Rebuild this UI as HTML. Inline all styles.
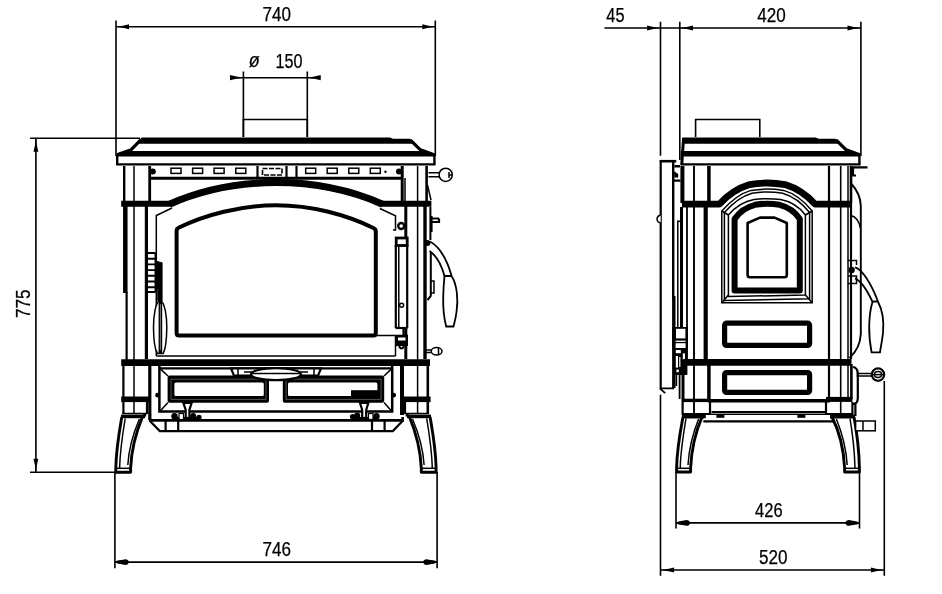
<!DOCTYPE html>
<html>
<head>
<meta charset="utf-8">
<title>Stove dimensions</title>
<style>
html,body{margin:0;padding:0;background:#fff;}
body{width:942px;height:594px;overflow:hidden;}
svg{display:block;will-change:transform;}
text{font-family:"Liberation Sans",sans-serif;font-size:20px;fill:#000;stroke:#000;stroke-width:0.25px;}
.d,.t,.m,.k,.K{stroke:#000;}
.d:not([fill]),.t:not([fill]),.m:not([fill]),.k:not([fill]),.K:not([fill]){fill:none;}
.d:not([stroke-width]){stroke-width:1.6;}
.t:not([stroke-width]){stroke-width:1.5;}
.m:not([stroke-width]){stroke-width:2.2;}
.k:not([stroke-width]){stroke-width:3.2;}
.K:not([stroke-width]){stroke-width:5.4;}
.a{fill:#000;stroke:none;}
.w{fill:#fff;}
</style>
</head>
<body>
<svg width="942" height="594" viewBox="0 0 942 594">
<rect width="942" height="594" fill="#fff"/>

<!-- ================= DIMENSIONS : FRONT ================= -->
<g id="dims-front">
<path class="d" d="M116,20.5V156 M435.3,20.5V156 M116,26.8H435.3"/>
<path class="a" d="M116,26.8 Q123.2,26.1 129.0,24.3 V29.3 Q123.2,27.5 116,26.8Z M435.3,26.8 Q428.2,26.1 422.3,24.3 V29.3 Q428.2,27.5 435.3,26.8Z"/>
<text x="276.8" y="20.8" text-anchor="middle" textLength="28.5" lengthAdjust="spacingAndGlyphs">740</text>

<path class="d" d="M243.4,71.5V137 M307.3,71.5V137 M230,77.7H320.5"/>
<path class="a" d="M243.4,77.7 Q236.0,77.0 230.0,75.1 V80.3 Q236.0,78.4 243.4,77.7Z M307.3,77.7 Q314.7,77.0 320.7,75.1 V80.3 Q314.7,78.4 307.3,77.7Z"/>
<text x="248.8" y="67.2" font-size="21" font-style="italic" textLength="11" lengthAdjust="spacingAndGlyphs">ø</text>
<text x="275.5" y="68.4" textLength="27" lengthAdjust="spacingAndGlyphs">150</text>

<path class="d" d="M30,138.2H140 M30,472.3H115 M35.9,138.2V472.3"/>
<path class="a" d="M35.9,138.2 Q35.2,145.6 33.5,151.7 H38.3 Q36.6,145.6 35.9,138.2Z M35.9,472.3 Q35.2,464.9 33.5,458.8 H38.3 Q36.6,464.9 35.9,472.3Z"/>
<text transform="translate(30.2,303.8) rotate(-90)" text-anchor="middle" textLength="28.5" lengthAdjust="spacingAndGlyphs">775</text>

<path class="d" d="M114.9,472V568.2 M437.1,472V568.2 M114.9,562.1H437.1"/>
<path class="a" d="M114.9,562.1 L117.4,560.6 L122.9,559.7 C124.9,558.8 128.8,558.8 128.8,562.1 C128.8,565.4 124.9,565.4 122.9,564.5 L117.4,563.6Z"/>
<path class="a" d="M437.1,562.1 L434.6,560.6 L429.1,559.7 C427.1,558.8 423.2,558.8 423.2,562.1 C423.2,565.4 427.1,565.4 429.1,564.5 L434.6,563.6Z"/>
<text x="276.8" y="556" text-anchor="middle" textLength="28.5" lengthAdjust="spacingAndGlyphs">746</text>
</g>

<!-- ================= DIMENSIONS : SIDE ================= -->
<g id="dims-side">
<path class="d" d="M660.5,21.8V155.8 M679.8,21.8V160 M860.9,21.8V156 M604.4,28H860.9"/>
<path class="a" d="M660.5,28 Q653.1,27.3 647.1,25.6 V30.4 Q653.1,28.7 660.5,28Z M679.8,28 Q687.1,27.3 693.0,25.6 V30.4 Q687.1,28.7 679.8,28Z M860.9,28 Q853.5,27.3 847.5,25.6 V30.4 Q853.5,28.7 860.9,28Z"/>
<text x="606.3" y="21.9" textLength="18.2" lengthAdjust="spacingAndGlyphs">45</text>
<text x="771.4" y="21.9" text-anchor="middle" textLength="28.5" lengthAdjust="spacingAndGlyphs">420</text>

<path class="d" d="M676,472V528.5 M859.5,472V528.5 M676,522.9H859.5"/>
<path class="a" d="M676.0,522.9 L678.5,521.4 L684.0,520.5 C686.0,519.6 689.9,519.6 689.9,522.9 C689.9,526.2 686.0,526.2 684.0,525.3 L678.5,524.4Z"/>
<path class="a" d="M859.5,522.9 L857.0,521.4 L851.5,520.5 C849.5,519.6 845.6,519.6 845.6,522.9 C845.6,526.2 849.5,526.2 851.5,525.3 L857.0,524.4Z"/>
<text x="768.8" y="517.2" text-anchor="middle" textLength="27.5" lengthAdjust="spacingAndGlyphs">426</text>

<path class="d" d="M660.5,394.8V575.8 M884.3,381V575.8 M660.5,570H884.3"/>
<path class="a" d="M660.5,570 Q668.0,569.3 674.1,567.5 V572.5 Q668.0,570.7 660.5,570Z M884.3,570 Q876.9,569.3 870.9,567.5 V572.5 Q876.9,570.7 884.3,570Z"/>
<text x="773.2" y="563.5" text-anchor="middle" textLength="28.5" lengthAdjust="spacingAndGlyphs">520</text>
</g>

<!-- ================= FRONT VIEW ================= -->
<g id="front">
<!-- flue -->
<path class="d" d="M243.4,137V119.5H307.3V137"/>
<!-- top plate -->
<path class="a" d="M141.4,137.5 H390 L393,138.8 H409.8 L413.4,143.7 H138.2 Z"/>
<path class="k" stroke-width="3.3" stroke-linejoin="round" stroke-linecap="round" d="M140,140.6 L131.2,149.7 L118.4,154.2"/>
<path class="k" stroke-width="3.3" stroke-linejoin="round" stroke-linecap="round" d="M411.2,140.8 L420.4,149.9 L433.4,154.6"/>
<path class="a" d="M116.8,156.6 V154.2 L126,151 H426 L434.8,154.6 V156.6Z"/>
<path class="m" stroke-width="2.4" d="M117.2,155V164 M434.4,155V164"/>
<path class="k" stroke-width="2.4" d="M116,164.4H435.6"/>
<!-- vent strip -->
<path class="m" stroke-width="3" d="M151,178.3H401"/>
<circle class="a" cx="152.8" cy="171.6" r="3"/>
<circle class="a" cx="399" cy="171.6" r="3"/>
<circle class="a" cx="385.5" cy="171.8" r="1.2"/>
<g class="t" stroke-width="1.5">
<rect x="171" y="168.2" width="10" height="5.2"/>
<rect x="192.6" y="168.2" width="10" height="5.2"/>
<rect x="214.1" y="168.2" width="10" height="5.2"/>
<rect x="235.8" y="168.2" width="10" height="5.2"/>
<rect x="305.7" y="168.2" width="10" height="5.2"/>
<rect x="327.2" y="168.2" width="10" height="5.2"/>
<rect x="348.8" y="168.2" width="10" height="5.2"/>
<rect x="370.3" y="168.2" width="10" height="5.2"/>
</g>
<path class="m" d="M257.5,166V178 M286.5,166V178 M296.5,166V178"/>
<rect class="m" x="262.5" y="168.5" width="19.5" height="6.5" stroke-width="1.6" stroke-dasharray="5 1.5"/>
<!-- left column -->
<path class="k" stroke-width="2.4" d="M124.2,166V203"/>
<path class="t" d="M134,166V414"/>
<path class="k" stroke-width="2.8" d="M149.7,166V203"/>
<path class="K" stroke-width="4.5" d="M125.3,203V293"/>
<path class="m" d="M126.6,292V360"/>
<path class="k" stroke-width="3.2" d="M146.4,203V359"/>
<path class="m" d="M123.4,364V414 M147,402V414"/>
<path class="k" d="M149.8,364V420"/>
<path class="K" stroke-width="5.6" d="M121.2,399.3H151"/>
<path class="K" stroke-width="3.6" d="M121,416.4H145"/>
<path class="t" d="M122.4,413.5H147"/>
<!-- right column -->
<path class="k" stroke-width="3" d="M402.2,166V203"/>
<path class="t" d="M405,178V203"/>
<path class="t" d="M417.6,166V414"/>
<path class="k" stroke-width="2.6" d="M426.6,166V203"/>
<path class="k" stroke-width="3" d="M405.8,203V238 M405.8,328V359"/>
<path class="k" stroke-width="3.4" d="M425,203V359"/>
<path class="K" stroke-width="4" d="M402,364V415"/>
<path class="m" stroke-width="2.6" d="M402.6,417V422"/>
<path class="k" stroke-width="2.6" d="M427.8,364V414"/>
<path class="m" d="M405,402V414"/>
<path class="K" stroke-width="5.6" d="M400.6,399.3H430.6"/>
<path class="K" stroke-width="3.6" d="M407,416.4H431"/>
<path class="t" d="M405,413.5H429"/>
<path class="t" d="M427.5,185 L431,200"/>
<!-- legs -->
<g id="legL">
<path class="k" stroke-width="2.9" stroke-linejoin="round" d="M121.8,417 C119.6,430 116.2,448 115.8,468 V472.2 H130.6 V468 C131.6,446 137,430 142.4,417"/>
<path class="t" d="M115.8,468.3H130.6"/>
<path class="t" d="M125.2,418.5 C122.6,434 120,452 119.6,468"/>
<path class="t" d="M139.4,419 C133.4,433 128.8,448 127.8,465"/>
<path class="a" d="M143,413.5H146.2V416.6H143Z"/>
</g>
<use href="#legL" transform="translate(551.9,0) scale(-1,1)"/>
<!-- belts -->
<path class="K" stroke-width="6" d="M121.2,203.8H171 M381,203.8H431.4"/>
<path class="K" stroke-width="6.6" d="M121.2,362.6H430"/>
<path class="K" stroke-width="7" stroke-linejoin="round" d="M169.5,204.2 C196,192.5 230,182.6 276,182.6 C322,182.6 356,192.5 382.5,204.2"/>
<!-- door outline -->
<path class="t" d="M156.3,356V215.5 L172,208 M379.8,208.5 L395.5,215.8 V230 H393 M395.5,335.5V356 M156.3,356H395.5 M376,335.6H395.5"/>
<!-- glass -->
<path class="k" stroke-width="4" stroke-linejoin="round" d="M176.6,333 V231 Q176.6,228.5 179,227.5 C205,215 240,205.3 276.2,205.3 C312,205.3 347,215 373.4,228 Q375.8,229 375.8,231.5 V333 Q375.8,335.6 373.4,335.6 H179 Q176.6,335.6 176.6,333Z"/>
<!-- left hinge ladder + handle -->
<path class="t" stroke-width="1.9" d="M147,253H155.5 M147,258.7H155.5 M147,264.4H155.5 M147,270.1H155.5 M147,275.8H155.5 M147,281.5H155.5 M147,287.2H155.5 M147,292H155.5 M155.5,253V292"/>
<path class="a" d="M155.5,260.5 L162.6,262.5 V289 H155.5Z"/>
<path class="a" d="M157.2,289H162.6V301H157.2Z"/>
<path class="t" fill="#fff" d="M160,300.8 C165,301.3 167,318 166.8,328 C166.6,340 164.8,350.5 163.2,353.4 H157.4 C155.3,350 153.6,339 153.5,328 C153.4,317 155.4,301.3 160,300.8Z"/>
<path class="k" stroke-width="3.6" d="M160.4,301V353"/>
<path d="M160.4,304V350" stroke="#999" stroke-width="0.8" fill="none"/>
<!-- right hinge rod -->
<rect class="m" x="396.2" y="238" width="11" height="7.5" fill="#fff" stroke-width="2.8"/>
<path class="m" d="M395.8,245V328 M407.2,245V328"/>
<path class="t" d="M398.8,246V327"/>
<path class="m" d="M395.5,328H407.5"/>
<circle class="t" cx="401.6" cy="305.2" r="2"/>
<path class="a" d="M395.4,334.7H408V346H395.4Z"/>
<rect x="398" y="337.5" width="7.5" height="3" fill="#fff"/>
<path class="m" d="M399,346 Q401.5,351 404,346"/>
<path class="m" d="M403.5,328V335"/>
<circle class="m" cx="401.2" cy="226" r="3" stroke-width="2.4"/>
<!-- right handle -->
<circle class="t" cx="445.7" cy="174.8" r="6.6" fill="#fff"/>
<path class="t" d="M428.5,172.8H439.2 M428.5,176.8H439.2 M449,172V178 M449,175H452"/>
<path class="m" d="M431.5,216V232 M431.5,218.5H439 M431.5,222H439V218.5"/>
<circle class="a" cx="427.4" cy="243" r="3"/>
<path class="t" stroke-width="1.8" d="M430,241.5 C440,247 447,260 451.5,275.5 M429.5,251 C437,256 441.5,265 444.5,276"/>
<path class="t" stroke-width="1.8" fill="#fff" d="M444.5,276 H451.5 C457,284 458.5,300 456.5,312 C455.5,320 454,324 453.5,326.5 H446.2 C444.5,320 443,308 443.2,298 C443.4,288 444,281 444.5,276Z"/>
<path class="m" stroke-width="2" d="M430.4,207V240 M430.8,252 V296 L427.5,300"/>
<path class="t" d="M431,281H434 V293 H431"/>
<ellipse class="t" cx="436.6" cy="351.3" rx="5.4" ry="3.8" fill="#fff"/>
<path class="t" d="M425.5,350H431.2 M425.5,352.6H431.2 M438.5,348V354.6"/>
<!-- ash door -->
<path class="m" stroke-width="2.5" d="M159.4,365 V411.5 H392.2 V365"/>
<path class="m" d="M159.8,368.4H392"/>
<path class="t" d="M159.8,368.4 L168,376 M392,368.4 L384,376 M159.8,411.5 L168,402.6 M392,411.5 L384,402.6"/>
<rect class="a" x="167.6" y="375.6" width="101.4" height="27.2" rx="2"/>
<rect class="a" x="282.8" y="375.6" width="101.4" height="27.2" rx="2"/>
<rect class="w" x="174.4" y="382.4" width="89.4" height="13.6" rx="1.5"/>
<rect class="w" x="288" y="382.4" width="89.4" height="13.6" rx="1.5"/>
<path d="M171,379.2H266V399.4H171Z M286,379.2H381V399.4H286Z" fill="none" stroke="#777" stroke-width="0.7"/>
<path class="a" d="M351,390.2H378V396.2H351Z"/>
<path class="m" fill="#fff" d="M231,368.4 H321 L318,375.6 H234Z"/>
<path class="t" d="M238,368.4V375.6 M244,372H252 M314,368.4V375.6 M300,372H308"/>
<ellipse class="m" cx="276" cy="374.2" rx="25" ry="6" fill="#fff"/>
<path class="t" d="M252,373.6H300"/>
<!-- tray -->
<path class="m" stroke-width="2.6" d="M150,420.4H402.5"/>
<path class="m" d="M150,414 V421 L159.8,431.1 H392.8 L402.5,421"/>
<path class="m" d="M165.6,420V431 M178.2,420V431 M372,420V431 M384.6,420V431"/>
<!-- latches -->
<path class="m" fill="#fff" d="M183.4,403 H191.6 L189.4,410 V420 H185.7 V410Z"/>
<circle class="a" cx="174.5" cy="416.2" r="3.2"/>
<circle class="a" cx="193.2" cy="416" r="3"/>
<circle class="a" cx="199" cy="417.4" r="2.6"/>
<path class="m" d="M174,418H199"/>
<rect x="179" y="413.5" width="4.5" height="6" fill="#fff" stroke="#000" stroke-width="1.2"/>
<path class="m" fill="#fff" d="M360,403 H368.3 L366.2,410 V420 H362.2 V410Z"/>
<circle class="a" cx="352.7" cy="416.8" r="2.8"/>
<circle class="a" cx="357.2" cy="415.4" r="3"/>
<circle class="a" cx="376.5" cy="416.2" r="3.2"/>
<path class="m" d="M352,418H377"/>
<rect x="368.5" y="413.5" width="4.5" height="6" fill="#fff" stroke="#000" stroke-width="1.2"/>
<circle class="a" cx="157.6" cy="395.2" r="2.4"/>
<circle class="a" cx="393.6" cy="395.2" r="2.4"/>
</g>

<!-- ================= SIDE VIEW ================= -->
<g id="side">
<path class="d" d="M695.6,137V119.5H759.8V137"/>
<path class="a" d="M682.4,137.5 H815.6 L818.6,138.8 H835.4 L839,143.7 H682 Z"/>
<path class="k" stroke-width="3.3" stroke-linejoin="round" stroke-linecap="round" d="M836.8,140.8 L846.2,149.9 L859,154.6"/>
<path class="a" d="M680.8,156.6 V151 H851.6 L860.4,154.6 V156.6Z"/>
<path class="k" stroke-width="3" d="M683.6,138 L681.8,164"/>
<path class="m" stroke-width="2.4" d="M859.4,155V164"/>
<path class="k" stroke-width="2.4" d="M680.4,164.4H860.6"/>
<!-- door -->
<path class="m" d="M660.7,160.5V388.6"/>
<path class="m" stroke-width="2.6" d="M659.7,161.2H676.2"/>
<path class="k" stroke-width="2.4" d="M673.2,161V300"/>
<path class="k" stroke-width="3.4" d="M673.8,296V388"/>
<path class="t" stroke-width="1.8" d="M659.7,388.4H674 M660,388.6 L665.2,393.2"/>
<path class="t" fill="#fff" d="M660.7,215.3 A3.7,3.7 0 0 0 660.7,222.7"/>
<path class="m" stroke-width="2.4" d="M674.4,166.3H680 M674,180.6H680.5"/>
<path class="a" d="M674.2,171.2 L678.2,174 V177.6 H674.2Z"/>
<path class="t" d="M677,221.2H680.2 M677.8,221V327"/>
<path class="k" stroke-width="3" d="M681.5,207V327"/>
<path class="a" d="M672.1,327H688V349.5H672.1Z"/>
<rect class="w" x="676" y="328.8" width="9.4" height="9.6"/>
<rect class="w" x="675.6" y="340.6" width="10" height="1.3"/>
<rect class="w" x="675.6" y="343.2" width="10" height="4.8"/>
<path class="a" d="M675,349H687.4V375H675Z"/>
<rect class="w" x="675.8" y="350" width="5" height="3.2"/>
<rect class="w" x="675.8" y="356" width="2.2" height="11.6"/>
<rect class="w" x="679.2" y="357" width="1.2" height="10"/>
<rect class="w" x="682.8" y="353.4" width="2.2" height="6"/>
<rect class="w" x="676.4" y="369.6" width="2.4" height="2.6"/>
<path class="t" stroke-width="1.6" d="M676.4,375V386"/>
<path class="t" stroke-width="1.8" d="M679.6,375V399"/>
<!-- columns -->
<path class="K" stroke-width="4" d="M682.4,166V203"/>
<path class="t" stroke-width="1.9" d="M694,166V414"/>
<path class="k" stroke-width="3.5" d="M708.9,166V203"/>
<path class="t" stroke-width="1.8" d="M687,206V359"/>
<path class="K" stroke-width="4.2" d="M705.7,203V359"/>
<path class="k" stroke-width="3" d="M683,364V402"/>
<path class="k" stroke-width="3.5" d="M708.9,364V399"/>
<path class="m" d="M829,166V399"/>
<path class="d" d="M840.7,166V414"/>
<path class="t" d="M848,166V399"/>
<path class="k" stroke-width="2.6" d="M851,166V203 M851.4,364V399"/>
<path class="m" d="M851,203V359"/>
<!-- belts -->
<path class="K" stroke-width="6.8" stroke-linejoin="round" d="M682,204.2 H719.3 C726,197 735,189 749.7,184.6 Q767.3,181.4 785,184.6 C799.5,189 808.5,197 815.2,204.2 H851.5"/>
<path class="K" stroke-width="6.6" d="M683.6,362.4H851.5"/>
<!-- arched panel -->
<path class="t" d="M721.8,302.8 V211 C729,203 738,194 751,190.4 Q767.3,187.8 783.6,190.4 C796.6,194 805.6,203 812.2,211 V302.8Z"/>
<path class="t" d="M724.4,300.4 V212.5 C731,205 740,196.6 752,193.2 Q767.3,190.6 782.6,193.2 C794.6,196.6 803.6,205 809.6,212.5 V298.8Z"/>
<path class="t" d="M728.4,296.6 V215 C734.5,208 743,201.6 754,199.6 Q767.3,197.8 780.6,199.6 C791.6,201.6 800,208 805.4,215 V295Z"/>
<path class="t" d="M721.8,302.8 L728.4,295 M812.2,302.8 L805.4,295 M721.8,211 L728.4,215 M812.2,211 L805.4,215"/>
<path class="K" stroke-width="6" stroke-linejoin="round" d="M734.6,290.4 V219 C739,212.5 746,207 755,204.8 Q767.3,202.8 779.6,204.8 C788.6,207 795.6,212.5 799.8,219 V290.4Z"/>
<path class="k" stroke-width="2.6" stroke-linejoin="round" d="M747.6,275 V223 L760,217.6 H774.5 L786.8,223 V275 Q786.8,277.3 784.4,277.3 H750 Q747.6,277.3 747.6,275Z"/>
<!-- panels -->
<rect class="K" stroke-width="5.2" x="724.6" y="323.2" width="85" height="22.2" rx="2"/>
<rect class="K" stroke-width="5.2" x="724.6" y="372.6" width="85" height="19.8" rx="2"/>
<!-- base -->
<path class="K" stroke-width="3.6" d="M708,400.7H830"/>
<path class="k" stroke-width="3.4" d="M682.7,400.4H710"/>
<path class="K" stroke-width="5" d="M826,399.4H852.4"/>
<path class="m" d="M682.6,402 V414 H710 V402"/>
<path class="m" d="M826,402 V414 H852.4 V402"/>
<path class="m" d="M711.5,412.2H826 M703.3,421.4H833"/>
<path class="t" stroke-width="1.3" d="M683,414.3H852"/>
<rect class="a" x="716.4" y="414.4" width="8" height="3.4"/>
<rect class="a" x="797.4" y="414.4" width="8" height="3.4"/>
<!-- legs -->
<path class="k" stroke-width="2.9" stroke-linejoin="round" d="M683,417 C680.6,430 677,448 676.6,468 V472 H690.6 V468 C691.6,446 696.4,430 702,417"/>
<path class="K" stroke-width="3.6" d="M682,416.6H704 M830,416.6H855"/>
<path class="a" d="M702.6,413.5H705.8V418.2H702.6Z"/>
<path class="t" d="M676.6,468.3H690.6"/>
<path class="t" d="M686,418.5 C683.4,434 680.6,452 680.2,468"/>
<path class="t" d="M698.6,419 C693,433 689,448 688,465"/>
<path class="k" stroke-width="2.9" stroke-linejoin="round" d="M854,417 C856.4,430 859,448 859.4,468 V472 H844.6 V468 C843.6,446 838.6,430 832,417"/>
<path class="t" d="M859.4,468.3H844.6"/>
<path class="t" d="M850,418.5 C852.6,434 854.6,452 855,468"/>
<path class="t" d="M836.4,419 C842,433 846.2,448 847.2,465"/>
<!-- rear -->
<path class="m" d="M850,167.4H867.5 M853,167.4V175.5H856"/>
<path class="t" stroke-width="1.9" d="M851.5,184 C857,190 860.5,196 860.8,206 V334 C860.3,345 856,352 849.5,358"/>
<path class="t" d="M851,215.5 C855,216.5 859,221 860.4,228"/>
<path class="m" d="M853,367 C856.5,367.5 857.8,370 857.8,374 V398 C857.8,402 856,404 853,404 M855.4,403V416"/>
<rect class="t" x="855.6" y="421" width="19.7" height="9.8" fill="#fff"/>
<path class="t" d="M863,421V430.8"/>
<!-- handle -->
<path class="t" d="M847.8,260.5 H856.5 V265 M847.8,283.5 H856.5 V276 H848"/>
<circle class="a" cx="851.6" cy="270" r="3.2"/>
<path class="t" stroke-width="1.8" d="M855,267.3 C861,268.5 870,281 877.8,301 M855,278.4 C861,281 867,290 872.4,301.7 H878"/>
<path class="t" stroke-width="1.8" fill="#fff" d="M872.6,301.7 H878 C882.5,310 884,322 883,333 C882,342 880.5,348 880,352.3 H871.6 C870.2,345 869,335 869.2,326 C869.4,316 870.5,308 872.6,301.7Z"/>
<!-- knob -->
<path class="t" d="M856.6,373.4H871.5 M856.6,376H871.5"/>
<circle class="m" cx="878" cy="374.6" r="6.2" fill="#fff"/>
<ellipse class="t" cx="878" cy="374.6" rx="3.6" ry="3"/>
<path class="t" d="M871.5,374.6H884.5"/>
</g>
</svg>
</body>
</html>
